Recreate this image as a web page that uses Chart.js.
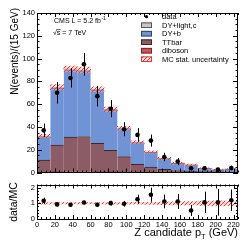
<!DOCTYPE html>
<html lang="en">
<head>
  <meta charset="UTF-8">
  <title>Z candidate pT — data/MC</title>
  <script src="https://cdn.jsdelivr.net/npm/chart.js"></script>
  <style>
    body { margin: 0; background: #fff; }
    #wrap { position: relative; width: 249px; height: 242px; }
    #main { position: absolute; left: 0; top: 0; }
    #ratio { position: absolute; left: 0; top: 178px; }
  </style>
</head>
<body>
<div id="wrap">
  <canvas id="main" width="249" height="179"></canvas>
  <canvas id="ratio" width="249" height="64"></canvas>
</div>

<script>
  // bins of 15 GeV, 0..225
  const binCenters = [7.5, 22.5, 37.5, 52.5, 67.5, 82.5, 97.5, 112.5, 127.5, 142.5, 157.5, 172.5, 187.5, 202.5, 217.5];
  const xTicks = [0, 20, 40, 60, 80, 100, 120, 140, 160, 180, 200, 220];
  const yTicks = [0, 20, 40, 60, 80, 100, 120, 140];
  const ratioTicks = [0, 1, 2];

  const dataCounts = [37, 70, 83, 95, 67, 56, 38, 33, 28, 13.6, 9.6, 3.7, 3.7, 2.5, 4];
  const dataErr    = [6, 9.5, 8.5, 10, 9, 7.5, 6.2, 6, 5.3, 3.7, 3.1, 1.9, 1.9, 1.6, 2];

  // MC stack, bottom to top
  const diboson = [0.3, 0.5, 0.6, 0.6, 0.5, 0.5, 0.4, 0.3, 0.3, 0.2, 0.2, 0.1, 0.1, 0.1, 0.1];
  const ttbar   = [10.5, 23.5, 30.5, 31, 25, 19, 13.6, 6.8, 4.5, 2.5, 1.5, 1, 0.6, 0.4, 0.3];
  const dyB     = [20.7, 50.2, 59.1, 57.6, 46.8, 35.5, 24.6, 19.1, 13, 9.5, 6.4, 5.6, 2.9, 1.9, 2.6];
  const dyLight = [0.5, 0.8, 0.8, 0.8, 0.7, 0.5, 0.4, 0.3, 0.2, 0.2, 0.1, 0.1, 0.1, 0.1, 0.1];
  const mcStatUnc = [1.5, 2.2, 2.5, 2.5, 2.2, 2, 1.6, 1.3, 1.1, 0.9, 0.8, 0.7, 0.5, 0.4, 0.45];

  const ratioVals = [1.16, 0.93, 0.91, 1.05, 0.91, 1.01, 0.97, 1.26, 1.55, 1.12, 1.12, 0.54, 1.06, 1.06, 1.2];
  const ratioErr  = [0.2, 0.12, 0.11, 0.11, 0.13, 0.15, 0.18, 0.29, 0.45, 0.44, 0.48, 0.35, 0.68, 0.85, 0.68];
  const ratioUnc  = [0.05, 0.04, 0.04, 0.04, 0.04, 0.05, 0.05, 0.06, 0.07, 0.08, 0.1, 0.11, 0.14, 0.16, 0.15];

  const FONT = '"Liberation Sans", Arial, sans-serif';
  Chart.defaults.font.family = FONT;
  Chart.defaults.color = '#000';

  // red hatch for the MC stat. band
  const hatch = (() => {
    const c = document.createElement('canvas');
    c.width = 4; c.height = 4;
    const g = c.getContext('2d');
    g.fillStyle = 'rgba(255,185,185,0.45)';
    g.fillRect(0, 0, 4, 4);
    g.strokeStyle = '#e53a3a';
    g.lineWidth = 1;
    g.beginPath();
    g.moveTo(-1, 5); g.lineTo(5, -1);
    g.stroke();
    return g.createPattern(c, 'repeat');
  })();

  const pts = (vals) => binCenters.map((x, i) => ({ x: x, y: vals[i] }));
  const total = binCenters.map((_, i) => diboson[i] + ttbar[i] + dyB[i] + dyLight[i]);

  // ROOT-like frame with inward ticks on all four sides
  const frameTicks = {
    id: 'frameTicks',
    afterDatasetsDraw(chart, args, o) {
      const { ctx, chartArea: a, scales: { x, y } } = chart;
      ctx.save();
      ctx.strokeStyle = '#000';
      ctx.lineWidth = 1;
      ctx.strokeRect(Math.round(a.left) + 0.5, Math.round(a.top) + 0.5, Math.round(a.width) - 1, Math.round(a.height) - 1);
      ctx.beginPath();
      for (let v = x.min; v <= x.max + 1e-6; v += o.xMinor) {
        const px = Math.round(x.getPixelForValue(v)) + 0.5;
        const len = Math.abs(v % o.xMajor) < 1e-6 ? o.xLen : o.xLen / 2;
        ctx.moveTo(px, a.bottom); ctx.lineTo(px, a.bottom - len);
        ctx.moveTo(px, a.top); ctx.lineTo(px, a.top + len);
      }
      for (let v = y.min; v <= y.max + 1e-6; v += o.yMinor) {
        const py = Math.round(y.getPixelForValue(v)) + 0.5;
        const major = Math.abs(v / o.yMajor - Math.round(v / o.yMajor)) < 1e-6;
        const len = major ? o.yLen : o.yLen / 2;
        ctx.moveTo(a.left, py); ctx.lineTo(a.left + len, py);
        ctx.moveTo(a.right, py); ctx.lineTo(a.right - len, py);
      }
      ctx.stroke();
      ctx.restore();
    }
  };

  // vertical error bars for datasets carrying an "errors" array
  const errorBars = {
    id: 'errorBars',
    afterDatasetsDraw(chart) {
      const { ctx, scales: { x, y } } = chart;
      ctx.save();
      ctx.strokeStyle = '#000';
      ctx.lineWidth = 1;
      chart.data.datasets.forEach(ds => {
        if (!ds.errors) return;
        ds.data.forEach((p, i) => {
          const px = Math.round(x.getPixelForValue(p.x)) + 0.5;
          ctx.beginPath();
          ctx.moveTo(px, y.getPixelForValue(p.y - ds.errors[i]));
          ctx.lineTo(px, y.getPixelForValue(p.y + ds.errors[i]));
          ctx.stroke();
        });
      });
      ctx.restore();
    }
  };

  const mainLabels = {
    id: 'mainLabels',
    afterDraw(chart) {
      const ctx = chart.ctx;
      const ds = chart.data.datasets;
      ctx.save();
      ctx.fillStyle = '#000';
      ctx.textBaseline = 'middle';

      // y title, right aligned at the top
      ctx.save();
      ctx.translate(15, 8);
      ctx.rotate(-Math.PI / 2);
      ctx.textAlign = 'right';
      ctx.font = '10px ' + FONT;
      ctx.fillText('N(events)/(15 GeV)', 0, 0);
      ctx.restore();

      // CMS label
      ctx.textAlign = 'left';
      ctx.font = '7px ' + FONT;
      ctx.fillText('CMS L = 5.2 fb', 54, 21);
      const w = ctx.measureText('CMS L = 5.2 fb').width;
      ctx.font = '5px ' + FONT;
      ctx.fillText('-1', 54 + w + 0.5, 18.5);
      ctx.font = '7px ' + FONT;
      ctx.fillText('\u221As = 7 TeV', 53, 33);
      ctx.fillRect(56.5, 29, 4, 0.6);

      // legend
      const order = [0, 5, 4, 3, 2, 1];
      ctx.font = '7.5px ' + FONT;
      order.forEach((k, i) => {
        const d = ds[k];
        const cy = 16.7 + i * 8.5;
        if (k === 0) {
          ctx.beginPath();
          ctx.arc(146.5, cy, 1.6, 0, Math.PI * 2);
          ctx.fill();
        } else {
          ctx.fillStyle = d.backgroundColor;
          ctx.fillRect(141, cy - 2.8, 11, 5.6);
          ctx.strokeStyle = k === 1 ? '#e53a3a' : d.borderColor;
          ctx.lineWidth = 1;
          ctx.strokeRect(141.5, cy - 2.3, 10, 4.6);
          ctx.fillStyle = '#000';
        }
        ctx.fillText(d.label, 162, cy + 0.3);
      });
      ctx.restore();
    }
  };

  const ratioLabels = {
    id: 'ratioLabels',
    afterDraw(chart) {
      const ctx = chart.ctx;
      ctx.save();
      ctx.fillStyle = '#000';
      ctx.textBaseline = 'middle';
      ctx.save();
      ctx.translate(14, 24);
      ctx.rotate(-Math.PI / 2);
      ctx.textAlign = 'center';
      ctx.font = '10.5px ' + FONT;
      ctx.fillText('data/MC', 0, 0);
      ctx.restore();

      // x title with subscript T, right aligned to the frame
      ctx.textBaseline = 'alphabetic';
      ctx.textAlign = 'left';
      const big = '11px ' + FONT, small = '7.5px ' + FONT;
      ctx.font = big;
      const a = 'Z candidate p', c = ' (GeV)';
      const wa = ctx.measureText(a).width, wc = ctx.measureText(c).width;
      ctx.font = small;
      const wb = ctx.measureText('T').width;
      let x0 = 238 - (wa + wb + wc);
      ctx.font = big;
      ctx.fillText(a, x0, 58);
      ctx.font = small;
      ctx.fillText('T', x0 + wa, 61);
      ctx.font = big;
      ctx.fillText(c, x0 + wa + wb, 58);
      ctx.restore();
    }
  };

  const barBase = {
    type: 'bar',
    stack: 'mc',
    order: 2,
    barPercentage: 1,
    categoryPercentage: 1,
    borderWidth: { top: 1, left: 0, right: 0, bottom: 0 },
    borderSkipped: 'bottom'
  };

  new Chart(document.getElementById('main').getContext('2d'), {
    type: 'bar',
    data: {
      datasets: [
        { type: 'scatter', label: 'data', data: pts(dataCounts), errors: dataErr, order: 0,
          pointRadius: 2.3, pointBackgroundColor: '#000', pointBorderWidth: 0 },
        { type: 'bar', label: 'MC stat. uncertainty', stack: 'band', grouped: false, order: 1,
          data: binCenters.map((x, i) => ({ x: x, y: [total[i] - mcStatUnc[i], total[i] + mcStatUnc[i]] })),
          backgroundColor: hatch, borderWidth: 0, barPercentage: 1, categoryPercentage: 1 },
        Object.assign({}, barBase, { label: 'diboson', data: pts(diboson), backgroundColor: '#cf5050', borderColor: '#7a2626' }),
        Object.assign({}, barBase, { label: 'TTbar', data: pts(ttbar), backgroundColor: '#8b5b66', borderColor: '#40242a' }),
        Object.assign({}, barBase, { label: 'DY+b', data: pts(dyB), backgroundColor: '#7093d5', borderColor: '#2f4470' }),
        Object.assign({}, barBase, { label: 'DY+light,c', data: pts(dyLight), backgroundColor: '#c8c8c8', borderColor: '#555' })
      ]
    },
    options: {
      responsive: false,
      animation: false,
      layout: { padding: { top: 13, right: 11, bottom: 2, left: 0 } },
      plugins: { legend: { display: false }, tooltip: { enabled: false },
        frameTicks: { xMinor: 5, xMajor: 20, xLen: 4, yMinor: 5, yMajor: 20, yLen: 5 } },
      scales: {
        x: { type: 'linear', min: 0, max: 225, offset: false, stacked: true, display: false },
        y: {
          min: 0, max: 140, stacked: true,
          grid: { display: false, drawTicks: false }, border: { display: false },
          afterBuildTicks: (s) => { s.ticks = yTicks.map(v => ({ value: v })); },
          afterFit: (s) => { s.width = 37; },
          ticks: { font: { size: 7.5 }, padding: 2, color: '#000' }
        }
      }
    },
    plugins: [frameTicks, errorBars, mainLabels]
  });

  new Chart(document.getElementById('ratio').getContext('2d'), {
    type: 'bar',
    data: {
      datasets: [
        { type: 'scatter', label: 'data/MC', data: pts(ratioVals), errors: ratioErr, order: 0,
          pointRadius: 2.3, pointBackgroundColor: '#000', pointBorderWidth: 0 },
        { type: 'bar', label: 'MC stat. uncertainty', order: 1, grouped: false,
          data: binCenters.map((x, i) => ({ x: x, y: [1 - ratioUnc[i], 1 + ratioUnc[i]] })),
          backgroundColor: hatch, borderWidth: 0, barPercentage: 1, categoryPercentage: 1 }
      ]
    },
    options: {
      responsive: false,
      animation: false,
      layout: { padding: { top: 2, right: 11, bottom: 0, left: 0 } },
      plugins: { legend: { display: false }, tooltip: { enabled: false },
        frameTicks: { xMinor: 5, xMajor: 20, xLen: 4, yMinor: 0.2, yMajor: 1, yLen: 4 } },
      scales: {
        x: {
          type: 'linear', min: 0, max: 225, offset: false,
          grid: { display: false, drawTicks: false }, border: { display: false },
          afterBuildTicks: (s) => { s.ticks = xTicks.map(v => ({ value: v })); },
          afterFit: (s) => { s.height = 23; },
          ticks: { font: { size: 7.5 }, padding: 1.5, maxRotation: 0, autoSkip: false, color: '#000' }
        },
        y: {
          min: 0, max: 2.2,
          grid: { display: false, drawTicks: false }, border: { display: false },
          afterBuildTicks: (s) => { s.ticks = ratioTicks.map(v => ({ value: v })); },
          afterFit: (s) => { s.width = 37; },
          ticks: { font: { size: 7.5 }, padding: 2, color: '#000' }
        }
      }
    },
    plugins: [frameTicks, errorBars, ratioLabels]
  });
</script>
</body>
</html>
